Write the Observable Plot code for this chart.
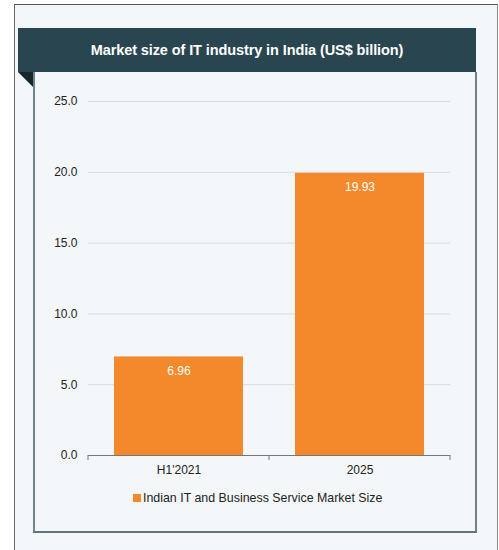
<!DOCTYPE html>
<html>
<head>
<meta charset="utf-8">
<script src="https://cdn.jsdelivr.net/npm/d3@7"></script>
<script src="https://cdn.jsdelivr.net/npm/@observablehq/plot@0.6"></script>
<style>
  html, body { margin: 0; padding: 0; background: #ffffff; width: 499px; height: 550px; overflow: hidden; font-family: "Liberation Sans", Arial, sans-serif; }
  #outer { position: absolute; left: 14px; top: 4px; width: 482px; height: 560px; border-left: 1px solid #6a6a6a; border-top: 1px solid #555; border-right: 1px solid #8a8a8a; background: #f4f7f9; }
  #header { position: absolute; left: 18px; top: 28px; width: 458px; height: 44px; background: #29454f; color: #ffffff; font-weight: bold; font-size: 14.5px; text-align: center; line-height: 44px; letter-spacing: -0.1px; }
  #fold { position: absolute; left: 18px; top: 72px; width: 0; height: 0; border-top: 16px solid #15262c; border-left: 16px solid transparent; }
  #inner { position: absolute; left: 33px; top: 72px; width: 440px; height: 459px; border-left: 2px solid #6f838a; border-bottom: 2px solid #5f747b; border-right: 2px solid #6f838a; background: #f4f7f9; }
  #chart { position: absolute; left: 0; top: 80px; }
  #legend { position: absolute; left: 133px; top: 491px; font-size: 12.4px; color: #222; display: flex; align-items: center; }
  #legend .sw { width: 8px; height: 8px; background: #f3892a; margin-right: 2px; }
</style>
</head>
<body>
<div id="outer"></div>
<div id="header">Market size of IT industry in India (US$ billion)</div>
<div id="fold"></div>
<div id="inner"></div>
<div id="chart"></div>
<div id="legend"><div class="sw"></div><span>Indian IT and Business Service Market Size</span></div>
<script>
const categories = ["H1'2021", "2025"];
const values = [6.96, 19.93];
const yTicks = [0, 5, 10, 15, 20, 25];
const seriesName = "Indian IT and Business Service Market Size";

const data = categories.map((c, i) => ({category: c, value: values[i]}));

const plot = Plot.plot({
  width: 499,
  height: 405,
  marginLeft: 88,
  marginRight: 49,
  marginTop: 21,
  marginBottom: 30,
  style: {background: "transparent", fontFamily: "Liberation Sans, Arial, sans-serif", fontSize: "12px", color: "#222"},
  x: {domain: categories, padding: 0, label: null},
  y: {domain: [0, 25], label: null},
  marks: [
    Plot.gridY(yTicks, {stroke: "#d9dcde", strokeOpacity: 1}),
    Plot.axisY(yTicks, {tickSize: 0, tickPadding: 11, tickFormat: d3.format(".1f"), fill: "#222", fontSize: 12}),
    Plot.barY(data, {x: "category", y: "value", fill: "#f3892a", insetLeft: 26, insetRight: 26}),
    Plot.text(data, {x: "category", y: "value", text: d => d.value.toFixed(2), dy: 14, fill: "#ffffff", fontSize: 12}),
    Plot.ruleY([0], {stroke: "#777"}),
    Plot.axisX({tickSize: 0, tickPadding: 10, fill: "#222", fontSize: 12})
  ]
});
document.getElementById("chart").appendChild(plot);

// band-boundary tick marks on the x axis, from the plot's own scales
const xs = plot.scale("x");
const ys = plot.scale("y");
const y0 = ys.apply(0);
const centers = categories.map(c => xs.apply(c) + xs.bandwidth / 2);
const edges = [xs.range[0]];
for (let i = 0; i < centers.length - 1; i++) edges.push((centers[i] + centers[i + 1]) / 2);
edges.push(xs.range[1]);
d3.select(plot).append("g").selectAll("line").data(edges).join("line")
  .attr("x1", d => d).attr("x2", d => d)
  .attr("y1", y0).attr("y2", y0 + 5)
  .attr("stroke", "#777");
</script>
</body>
</html>
